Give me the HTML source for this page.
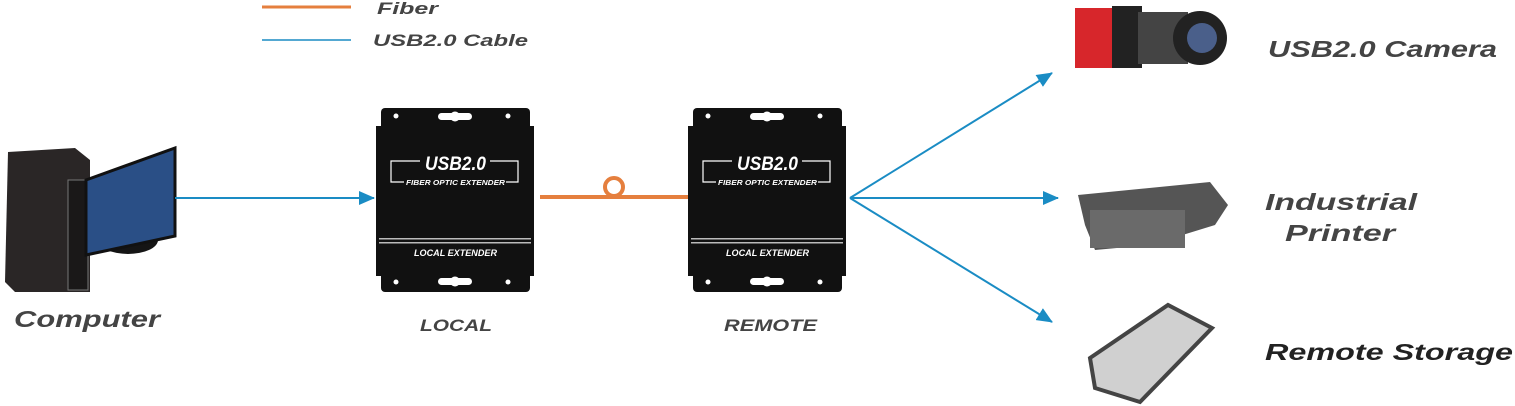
<!DOCTYPE html>
<html><head><meta charset="utf-8"><style>
body{margin:0;background:#fff;}
svg{display:block;}
text{font-family:"Liberation Sans",sans-serif;font-weight:bold;font-style:italic;}
</style></head><body>
<svg width="1515" height="406" viewBox="0 0 1515 406" xmlns="http://www.w3.org/2000/svg">
<defs>
<marker id="ar2" markerWidth="16" markerHeight="14" refX="15" refY="7" orient="auto" markerUnits="userSpaceOnUse">
<path d="M0,0 L16,7 L0,14 Z" fill="#1a8cc4"/></marker>
<g id="box">
<rect x="5" y="0" width="149" height="22" rx="4" fill="#111"/>
<rect x="5" y="162" width="149" height="22" rx="4" fill="#111"/>
<rect x="0" y="18" width="158" height="150" fill="#111"/>
<circle cx="20" cy="8" r="2.5" fill="#fff"/><circle cx="132" cy="8" r="2.5" fill="#fff"/>
<circle cx="20" cy="174" r="2.5" fill="#fff"/><circle cx="132" cy="174" r="2.5" fill="#fff"/>
<rect x="62" y="5" width="34" height="7" rx="3.5" fill="#fff"/><circle cx="79" cy="8.5" r="5" fill="#fff"/>
<rect x="62" y="170" width="34" height="7" rx="3.5" fill="#fff"/><circle cx="79" cy="173.5" r="5" fill="#fff"/>
<path d="M44,53 H15 V74 H28 M130,74 H142 V53 H114" stroke="#fff" stroke-width="1.2" fill="none"/>
<text x="49" y="62" fill="#fff" font-size="19" textLength="61" lengthAdjust="spacingAndGlyphs">USB2.0</text>
<text x="30" y="77" fill="#fff" font-size="7.5" textLength="99" lengthAdjust="spacingAndGlyphs">FIBER OPTIC EXTENDER</text>
<rect x="3" y="130" width="152" height="1.5" fill="#bbb"/><rect x="3" y="134" width="152" height="1.5" fill="#bbb"/>
<text x="38" y="148" fill="#fff" font-size="9.5" textLength="83" lengthAdjust="spacingAndGlyphs">LOCAL  EXTENDER</text>
</g>
</defs>
<!-- legend -->
<line x1="262" y1="7" x2="351" y2="7" stroke="#e57f3e" stroke-width="3"/>
<line x1="262" y1="40" x2="351" y2="40" stroke="#1a8cc4" stroke-width="1.5"/>
<text x="377" y="14" font-size="17" fill="#444" textLength="61" lengthAdjust="spacingAndGlyphs">Fiber</text>
<text x="373" y="46" font-size="17" fill="#444" textLength="155" lengthAdjust="spacingAndGlyphs">USB2.0 Cable</text>
<!-- computer -->
<path d="M8,152 L75,148 L90,160 L90,292 L15,292 L5,282 Z" fill="#2a2626"/>
<rect x="68" y="180" width="20" height="110" fill="#1a1818" stroke="#777" stroke-width="1"/>
<ellipse cx="128" cy="240" rx="30" ry="14" fill="#151515"/>
<path d="M86,180 L175,148 L175,236 L86,255 Z" fill="#2a4f86" stroke="#111" stroke-width="3"/>
<text x="14" y="327" font-size="23" fill="#444" textLength="146" lengthAdjust="spacingAndGlyphs">Computer</text>
<!-- connectors -->
<line x1="175" y1="198" x2="374" y2="198" stroke="#1a8cc4" stroke-width="2" marker-end="url(#ar2)"/>
<line x1="540" y1="197" x2="688" y2="197" stroke="#e57f3e" stroke-width="4"/>
<circle cx="614" cy="187" r="9" fill="#fff" stroke="#e57f3e" stroke-width="4"/>
<use href="#box" x="376" y="108"/>
<use href="#box" x="688" y="108"/>
<text x="420" y="331" font-size="17" fill="#444" textLength="72" lengthAdjust="spacingAndGlyphs">LOCAL</text>
<text x="724" y="331" font-size="17" fill="#444" textLength="93" lengthAdjust="spacingAndGlyphs">REMOTE</text>
<line x1="850" y1="198" x2="1052" y2="73" stroke="#1a8cc4" stroke-width="2" marker-end="url(#ar2)"/>
<line x1="850" y1="198" x2="1058" y2="198" stroke="#1a8cc4" stroke-width="2" marker-end="url(#ar2)"/>
<line x1="850" y1="198" x2="1052" y2="322" stroke="#1a8cc4" stroke-width="2" marker-end="url(#ar2)"/>
<!-- camera -->
<rect x="1075" y="8" width="45" height="60" fill="#d7262b"/>
<rect x="1112" y="6" width="30" height="62" fill="#222"/>
<rect x="1138" y="12" width="50" height="52" fill="#444"/>
<circle cx="1200" cy="38" r="27" fill="#222"/>
<circle cx="1202" cy="38" r="15" fill="#4a5f8a"/>
<text x="1268" y="57" font-size="23" fill="#444" textLength="229" lengthAdjust="spacingAndGlyphs">USB2.0 Camera</text>
<!-- printer -->
<path d="M1078,195 L1210,182 L1228,205 L1215,225 L1150,245 L1095,250 L1085,225 Z" fill="#555"/>
<rect x="1090" y="210" width="95" height="38" fill="#6a6a6a"/>
<text x="1265" y="210" font-size="23" fill="#444" textLength="152" lengthAdjust="spacingAndGlyphs">Industrial</text>
<text x="1285" y="241" font-size="23" fill="#444" textLength="110" lengthAdjust="spacingAndGlyphs">Printer</text>
<!-- storage -->
<path d="M1090,358 L1168,305 L1212,328 L1140,402 L1095,388 Z" fill="#d0d0d0" stroke="#444" stroke-width="4"/>
<text x="1265" y="360" font-size="23" fill="#222" textLength="248" lengthAdjust="spacingAndGlyphs">Remote Storage</text>
</svg>
</body></html>
